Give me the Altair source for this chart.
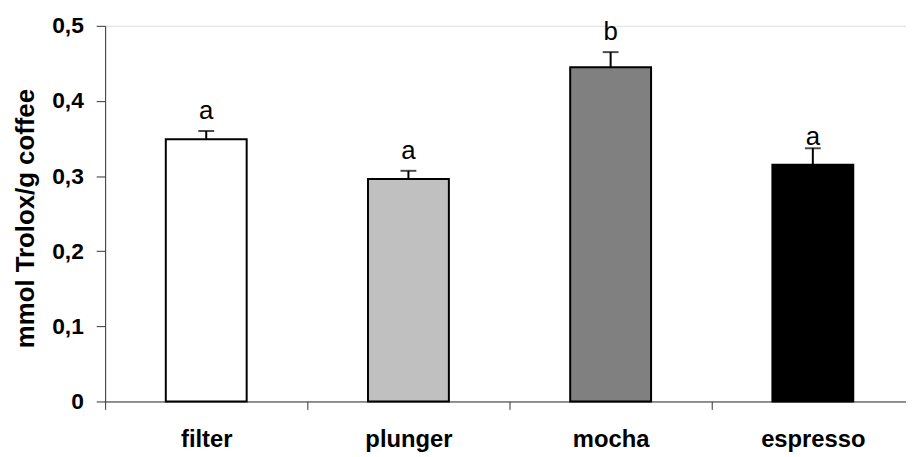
import altair as alt
import pandas as pd

# ---- data ----
methods = ["filter", "plunger", "mocha", "espresso"]
means = [0.349, 0.296, 0.445, 0.315]
upper = [0.360, 0.307, 0.465, 0.337]
letters = ["a", "a", "b", "a"]
letter_pos = [0.376, 0.323, 0.481, 0.341]
y_ticks = [0, 0.1, 0.2, 0.3, 0.4, 0.5]

# ---- styles ----
bar_colors = ["#ffffff", "#c0c0c0", "#808080", "#000000"]
FONT = "Liberation Sans"

df = pd.DataFrame({
    "method": methods,
    "mean": means,
    "upper": upper,
    "letter": letters,
    "lpos": letter_pos,
})

x = alt.X(
    "method:N",
    sort=methods,
    scale=alt.Scale(range=[0, 816], paddingInner=0, paddingOuter=0),
    axis=alt.Axis(
        title=None,
        labelAngle=0,
        tickBand="extent",
        tickSize=8,
        tickColor="#333333",
        domainColor="#333333",
        labelFont=FONT,
        labelFontSize=24,
        labelFontWeight="bold",
        labelColor="black",
        labelPadding=37,
        labelBaseline="alphabetic",
    ),
)

y_scale = alt.Scale(domain=[0, 0.5], nice=False)

bars = alt.Chart(df).mark_bar(
    width=alt.RelativeBandSize(0.4), stroke="black", strokeWidth=2
).encode(
    x=x,
    y=alt.Y(
        "mean:Q",
        scale=y_scale,
        axis=alt.Axis(
            title="mmol Trolox/g coffee",
            values=y_ticks,
            grid=False,
            labelExpr="replace(format(datum.value, '.1~f'), '.', ',')",
            labelFont=FONT,
            labelFontSize=23,
            labelFontWeight="bold",
            labelColor="black",
            labelPadding=13,
            tickSize=9,
            tickColor="#333333",
            domainColor="#333333",
            titleFont=FONT,
            titleFontSize=26,
            titleFontWeight="bold",
            titleColor="black",
            titleAngle=270,
            titleX=-72,
            titleY=194,
            titleAlign="center",
            titleBaseline="alphabetic",
        ),
    ),
    color=alt.Color(
        "method:N",
        scale=alt.Scale(domain=methods, range=bar_colors),
        legend=None,
    ),
)

stems = alt.Chart(df).mark_rule(color="black", strokeWidth=2).encode(
    x=x,
    y=alt.Y("mean:Q", scale=y_scale),
    y2="upper:Q",
)

caps = alt.Chart(df).mark_tick(color="black", thickness=2, size=16).encode(
    x=x,
    y=alt.Y("upper:Q", scale=y_scale),
)

labels = alt.Chart(df).mark_text(
    font=FONT, fontSize=26, color="black", baseline="alphabetic", align="center"
).encode(
    x=x,
    y=alt.Y("lpos:Q", scale=y_scale),
    text="letter:N",
)

chart = alt.layer(bars, stems, caps, labels).properties(
    width=808,
    height=379,
    autosize=alt.AutoSizeParams(type="none"),
    padding={"left": 98, "top": 16, "right": 0, "bottom": 49},
).configure_view(stroke=None).configure(background="white")

chart.save("out.html", embed_options={"renderer": "svg", "actions": False})
